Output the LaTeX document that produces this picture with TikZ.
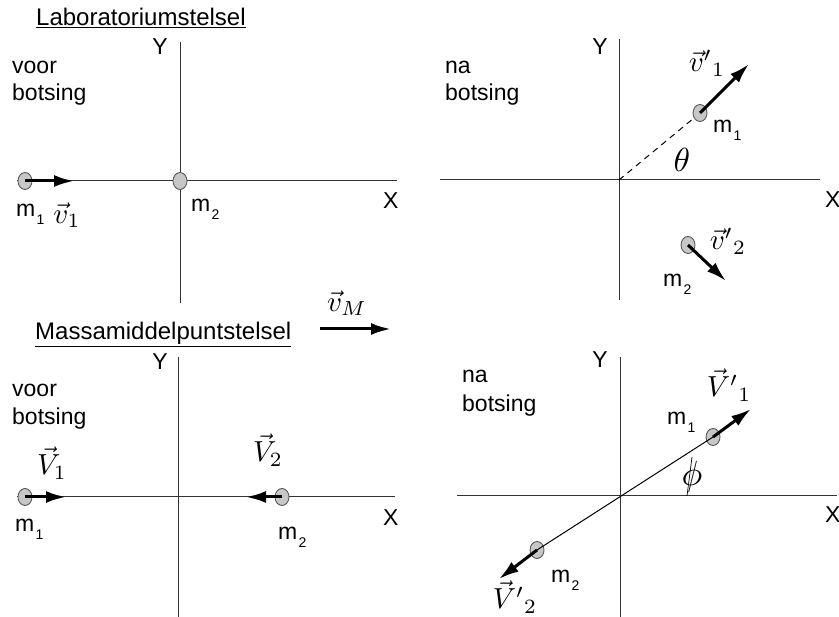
\documentclass[tikz,border=0pt]{standalone}
\usepackage{fontspec}
\setmainfont{Liberation Sans}
\usetikzlibrary{arrows.meta,shapes.geometric}
\newcommand{\msub}[1]{m\hspace{0.06em}\raisebox{-8pt}{\fontsize{14}{14}\selectfont #1}}
\tikzset{
  axis/.style={draw=black!80, line width=1pt},
  mass/.style={ellipse, draw=black!65, fill=black!22, line width=0.9pt, minimum width=14pt, minimum height=17pt, inner sep=0pt},
  vecarrow/.style={line width=3pt, -{Latex[length=20pt,width=12pt]}},
  lbl/.style={font=\fontsize{23}{27}\selectfont, inner sep=0pt},
  ttl/.style={font=\fontsize{24}{28}\selectfont, inner sep=0pt, anchor=base west},
  mth/.style={scale=2.9, inner sep=0pt},
}
\begin{document}
\begin{tikzpicture}[x=1pt,y=-1pt]
\useasboundingbox (0,0) rectangle (839,617);
% ---------- coordinates ----------
\coordinate (tlYt) at (180,42);  \coordinate (tlYb) at (180,303);
\coordinate (tlXl) at (17,181);  \coordinate (tlXr) at (397,181);
\coordinate (trYt) at (619,39);  \coordinate (trYb) at (619,300);
\coordinate (trXl) at (440,180); \coordinate (trXr) at (820,180);
\coordinate (trO) at (619,180);
\coordinate (blYt) at (178,357); \coordinate (blYb) at (178,617);
\coordinate (blXl) at (17,497);  \coordinate (blXr) at (395,497);
\coordinate (brYt) at (620,357); \coordinate (brYb) at (620,617);
\coordinate (brXl) at (457,496); \coordinate (brXr) at (837,496);
\coordinate (tlv1) at (74,181);
\coordinate (trv1) at (749,64);
\coordinate (trv2) at (726,281);
\coordinate (blv1) at (66,497);
\coordinate (blv2) at (246,497);
\coordinate (brv1) at (751,409);
\coordinate (brv2) at (499,579);
\coordinate (vMs) at (320,329);  \coordinate (vMe) at (391,329);
\coordinate (phiB) at (687,496); \coordinate (phiT) at (692,457);
% ---------- axes ----------
\draw[axis] (tlYt) -- (tlYb);
\draw[axis] (tlXl) -- (tlXr);
\draw[axis] (trYt) -- (trYb);
\draw[axis] (trXl) -- (trXr);
\draw[axis] (blYt) -- (blYb);
\draw[axis] (blXl) -- (blXr);
\draw[axis] (brYt) -- (brYb);
\draw[axis] (brXl) -- (brXr);
% ---------- masses ----------
\node[mass] (tlm1) at (25,181) {};
\node[mass] (tlm2) at (180,181) {};
\node[mass] (trm1) at (700,113) {};
\node[mass] (trm2) at (688,245) {};
\node[mass] (blm1) at (25,497) {};
\node[mass] (blm2) at (282,497) {};
\node[mass] (brm1) at (713,437) {};
\node[mass] (brm2) at (537,550) {};
% ---------- lines ----------
\draw[line width=1pt, dash pattern=on 6pt off 5pt] (trO) -- (trm1);
\draw[line width=1pt] (brm2.center) -- (brm1.center);
\draw[line width=0.7pt] (phiB) -- (phiT);
% ---------- arrows ----------
\draw[vecarrow] (tlm1.center) -- (tlv1);
\draw[vecarrow] (trm1.center) -- (trv1);
\draw[vecarrow] (trm2.center) -- (trv2);
\draw[vecarrow] (blm1.center) -- (blv1);
\draw[vecarrow] (blm2.center) -- (blv2);
\draw[vecarrow] (brm1.center) -- (brv1);
\draw[vecarrow] (brm2.center) -- (brv2);
\draw[vecarrow] (vMs) -- (vMe);
% ---------- titles ----------
\node[ttl] (t1) at (36,26) {\underline{Laboratoriumstelsel}};
\node[ttl] (t2) at (35,340) {\underline{Massamiddelpuntstelsel}};
% ---------- voor / na botsing ----------
\node[lbl, anchor=base west] (tla) at (12,74) {voor};
\node[lbl, anchor=base west] (tlb) at (12,101) {botsing};
\node[lbl, anchor=base west] (tra) at (445,74) {na};
\node[lbl, anchor=base west] (trb) at (445,101) {botsing};
\node[lbl, anchor=base west] (bla) at (12,397) {voor};
\node[lbl, anchor=base west] (blb) at (12,425) {botsing};
\node[lbl, anchor=base west] (bra) at (462,383) {na};
\node[lbl, anchor=base west] (brb) at (462,412) {botsing};
% ---------- axis labels ----------
\node[lbl, anchor=base] (tlY) at (160,55) {Y};
\node[lbl, anchor=base west] (tlX) at (383,209) {X};
\node[lbl, anchor=base] (trY) at (600,55) {Y};
\node[lbl, anchor=base west] (trX) at (825,208) {X};
\node[lbl, anchor=base] (blY) at (160,370) {Y};
\node[lbl, anchor=base west] (blX) at (383,526) {X};
\node[lbl, anchor=base] (brY) at (600,368) {Y};
\node[lbl, anchor=base west] (brX) at (825,523) {X};
% ---------- mass labels ----------
\node[lbl, anchor=base west] (tlm1l) at (16,217) {\msub{1}};
\node[lbl, anchor=base west] (tlm2l) at (191,212) {\msub{2}};
\node[lbl, anchor=base west] (trm1l) at (713,133) {\msub{1}};
\node[lbl, anchor=base west] (trm2l) at (663,287) {\msub{2}};
\node[lbl, anchor=base west] (blm1l) at (15,532) {\msub{1}};
\node[lbl, anchor=base west] (blm2l) at (278,540) {\msub{2}};
\node[lbl, anchor=base west] (brm1l) at (667,425) {\msub{1}};
\node[lbl, anchor=base west] (brm2l) at (551,583) {\msub{2}};
% ---------- math labels ----------
\node[mth] (tlv1l) at (67,215) {$\vec{v}_1$};
\node[mth] (trv1l) at (707,63) {$\vec{v}'{}_1$};
\node[mth, scale=1.15] (trth) at (682,160) {$\theta$};
\node[mth] (trv2l) at (728,241) {$\vec{v}'{}_2$};
\node[mth] (vMl) at (347,303) {$\vec{v}_M$};
\node[mth] (blV1l) at (52,463) {$\vec{V}_1$};
\node[mth] (blV2l) at (268,450) {$\vec{V}_2$};
\node[mth] (brV1l) at (729,385) {$\vec{V}'{}_1$};
\node[mth, scale=1.2] (brphi) at (692,477) {$\phi$};
\node[mth] (brV2l) at (515,597) {$\vec{V}'{}_2$};
\end{tikzpicture}
\end{document}
